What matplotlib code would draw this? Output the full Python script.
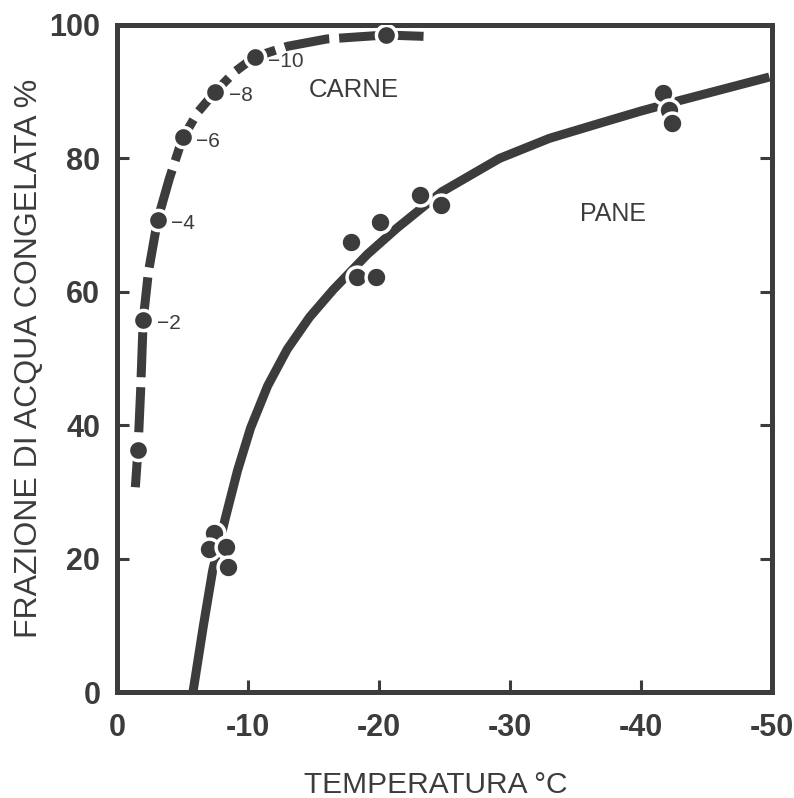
import numpy as np
import matplotlib
matplotlib.use("Agg")
import matplotlib.pyplot as plt

# carne (meat): dashed curve and labelled points
carne_curve_x = [-1.4, -1.6, -1.8, -2.0, -2.4, -3.1, -4.0, -5.0, -6.2, -7.5, -9.0, -10.5, -13.0, -16.0, -20.5, -23.4]
carne_curve_y = [30.7, 36.3, 45.0, 55.8, 63.0, 70.8, 77.0, 83.0, 87.0, 90.0, 93.0, 95.2, 96.8, 97.9, 98.5, 98.3]
carne_x = [-1.6, -2.0, -3.1, -5.0, -7.5, -10.5, -20.5]
carne_y = [36.3, 55.8, 70.8, 83.2, 90.0, 95.2, 98.5]
carne_labels = ["", "\u22122", "\u22124", "\u22126", "\u22128", "\u221210", ""]

# pane (bread): solid curve and points
pane_curve_x = [-5.8, -6.6, -7.3, -8.3, -9.2, -10.2, -11.5, -13.0, -14.7, -16.5, -19.1, -21.4, -24.8, -29.2, -33.0, -36.9, -40.0, -43.0, -46.5, -49.8]
pane_curve_y = [0.0, 10.0, 18.2, 26.3, 33.2, 39.6, 45.9, 51.4, 56.2, 60.3, 65.6, 69.6, 75.0, 80.0, 83.0, 85.3, 87.1, 88.7, 90.5, 92.2]
pane_x = [-7.4, -7.0, -8.3, -8.5, -17.9, -18.3, -19.8, -20.1, -23.1, -24.7, -41.7, -42.1, -42.4]
pane_y = [23.8, 21.4, 21.7, 18.7, 67.5, 62.2, 62.2, 70.5, 74.5, 73.0, 89.8, 87.3, 85.3]

x_ticks = [0, -10, -20, -30, -40, -50]
x_tick_labels = ["0", "-10", "-20", "-30", "-40", "-50"]
y_ticks = [0, 20, 40, 60, 80, 100]

ink = "#3c3c3c"
font = "Liberation Sans"

fig = plt.figure(figsize=(7.94, 7.98), dpi=100)
ax = fig.add_axes([117 / 794, 106 / 798, 655 / 794, 667 / 798])

ax.plot(carne_curve_x, carne_curve_y, color=ink, lw=6.5, dashes=(5, 1.1),
        dash_capstyle="butt", zorder=2)
ax.plot(carne_x, carne_y, "o", ms=14.5, color=ink, mec="white", mew=2.5, zorder=3)
for x, y, t in zip(carne_x, carne_y, carne_labels):
    ax.annotate(t, (x, y), xytext=(10, -3), textcoords="offset points",
                ha="left", va="center", fontsize=15, color=ink, family=font)

ax.plot(pane_curve_x, pane_curve_y, color=ink, lw=6.5, solid_capstyle="butt", zorder=2)
ax.plot(pane_x, pane_y, "o", ms=15, color=ink, mec="white", mew=2.5, zorder=3)

ax.text(-18.1, 90.3, "CARNE", fontsize=18.5, color=ink, ha="center", va="center", family=font)
ax.text(-37.9, 71.7, "PANE", fontsize=18, color=ink, ha="center", va="center", family=font)

ax.set_xlim(0, -50)
ax.set_ylim(0, 100)
ax.set_xticks(x_ticks)
ax.set_xticklabels(x_tick_labels)
ax.set_yticks(y_ticks)
for s in ax.spines.values():
    s.set_linewidth(3.6)
    s.set_color(ink)
ax.tick_params(direction="in", length=8.5, width=2.2, color=ink, labelcolor=ink,
               right=True, top=False)
ax.tick_params(axis="x", pad=15)
ax.tick_params(axis="y", pad=12)
for lab in ax.get_xticklabels() + ax.get_yticklabels():
    lab.set_fontsize(22)
    lab.set_fontweight("bold")
    lab.set_family(font)

ax.set_xlabel("TEMPERATURA °C", fontsize=21.5, color=ink, family=font, va="baseline")
ax.xaxis.set_label_coords(0.486, -0.151)
ax.set_ylabel("FRAZIONE DI ACQUA CONGELATA %", fontsize=23, color=ink, family=font, va="baseline")
ax.yaxis.set_label_coords(-0.122, 0.50)

fig.savefig("out.png", dpi=100)
